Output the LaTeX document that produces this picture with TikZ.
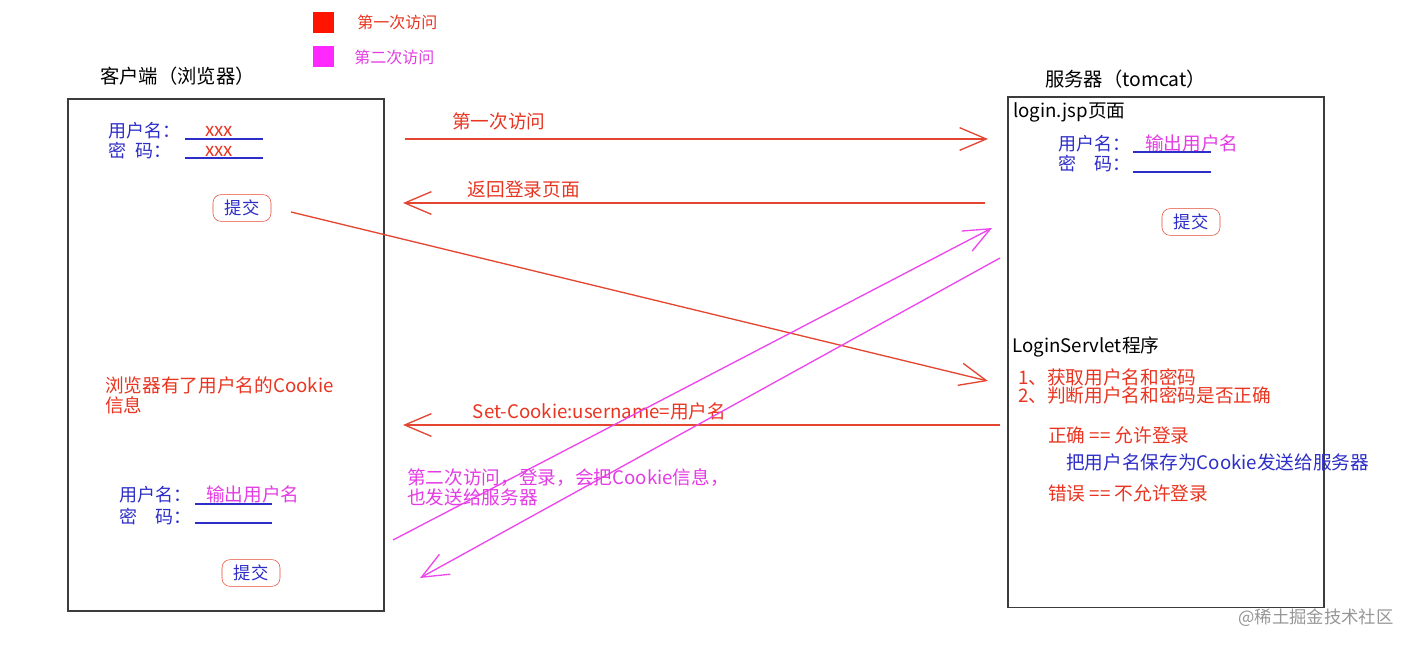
\documentclass[tikz,border=0pt]{standalone}
\usepackage{fontspec}
\setmainfont{Noto Sans CJK SC}
\usepackage{tikz}
\usetikzlibrary{arrows.meta,positioning}

\definecolor{redln}{RGB}{228,70,50}
\definecolor{redtx}{RGB}{232,52,32}
\definecolor{magln}{RGB}{236,70,236}
\definecolor{magtx}{RGB}{228,60,228}
\definecolor{bluetx}{RGB}{45,45,200}
\definecolor{frm}{RGB}{60,60,60}

\begin{document}
\begin{tikzpicture}[x=0.75pt, y=-0.75pt,
		every node/.style={inner sep=0pt, anchor=west, font=\fontsize{14}{15}\selectfont},
		frame/.style={draw=frm, line width=1.3pt, anchor=north west, minimum width=237pt},
		title/.style={font=\fontsize{14.5}{16}\selectfont},
		key/.style={font=\fontsize{12}{14}\selectfont},
		form/.style={text=bluetx, font=\fontsize{13.5}{15}\selectfont},
		btn/.style={draw=redln, anchor=center, rounded corners=6pt, minimum width=43.5pt, minimum height=20pt, text=bluetx, font=\fontsize{13}{15}\selectfont},
		uline/.style={draw=bluetx, line width=0.9pt},
		post/.style={-{Straight Barb[length=20pt, width=17pt]}, line width=1pt, draw=redln},
		back/.style={post, draw=magln},
		red/.style={text=redtx},
		blue/.style={text=bluetx},
		mag/.style={text=magtx}]

	\useasboundingbox (0,0) rectangle (1417,648);

	% legend
	\node [fill={rgb,255:red,255;green,20;blue,0}, anchor=center, minimum size=15.75pt] (K1) at (323.5,22.5) {};
	\node [fill={rgb,255:red,255;green,40;blue,255}, anchor=center, minimum size=15.75pt] (K2) at (323.5,56.5) {};
	\node [key, red] (K1t) at (357,22) {第一次访问};
	\node [key, mag] (K2t) at (354,57) {第二次访问};

	% client
	\node [title] (CT) at (100,76) {客户端（浏览器）};
	\node [frame, minimum height=384pt] (C) at (67,98) {};

	\node [form] (U1) at (108,131) {用户名：};
	\node [red] (U1v) at (205,131) {xxx};
	\node [form] (P1) at (108,151) {密\hspace{0.5em}码：};
	\node [red] (P1v) at (205,151) {xxx};
	\draw [uline] (185,139) -- (263,139);
	\draw [uline] (185,158) -- (263,158);
	\node [btn] (B1) at (242,208) {提交};

	\node [red, align=left] (CK) at (105,395) {浏览器有了用户名的Cookie\\信息};

	\node [form] (U2) at (119,495) {用户名：};
	\node [mag] (U2v) at (206,494) {输出用户名};
	\node [form] (P2) at (119,517) {密\hspace{1em}码：};
	\draw [uline] (195,504) -- (272,504);
	\draw [uline] (195,523) -- (272,523);
	\node [btn] (B2) at (251,573) {提交};

	% server
	\node [title] (ST) at (1045,79) {服务器（tomcat）};
	\node [frame, minimum height=383pt] (S) at (1007,96) {};

	\node (JSP) at (1013,112) {login.jsp页面};
	\node [form] (U3) at (1058,144) {用户名：};
	\node [mag] (U3v) at (1145,143) {输出用户名};
	\node [form] (P3) at (1058,164) {密\hspace{1em}码：};
	\draw [uline] (1133,152) -- (1211,152);
	\draw [uline] (1133,172) -- (1211,172);
	\node [btn] (B3) at (1191,222) {提交};

	\node (LS) at (1012,347) {LoginServlet程序};
	\node [red] (L1) at (1018,377) {1、获取用户名和密码};
	\node [red] (L2) at (1018,395) {2、判断用户名和密码是否正确};
	\node [red] (OK) at (1048,435) {正确 == 允许登录};
	\node [blue] (SV) at (1066,462) {把用户名保存为Cookie发送给服务器};
	\node [red] (NO) at (1048,493) {错误 == 不允许登录};

	% arrow ends
	\coordinate (a1s) at (405,139);  \coordinate (a1e) at (988,139);
	\coordinate (a2s) at (985,203);  \coordinate (a2e) at (403,203);
	\coordinate (a3s) at (291,212);  \coordinate (a3e) at (988,381);
	\coordinate (a4s) at (1000,425); \coordinate (a4e) at (403,425);
	\coordinate (a5s) at (393,540);  \coordinate (a5e) at (992,228);
	\coordinate (a6s) at (1000,258); \coordinate (a6e) at (420,578);

	\path (a1s) edge [post] node [red, pos=0.08, anchor=south west, yshift=6pt] {第一次访问} (a1e);
	\path (a2s) edge [post] node [red, pos=0.89, anchor=south west, yshift=3pt] {返回登录页面} (a2e);
	\path (a3s) edge [post] (a3e);
	\path (a4s) edge [post] node [red, pos=0.884, anchor=south west, yshift=3pt] {Set-Cookie:username=用户名} (a4e);
	\path (a5s) edge [back] (a5e);
	\path (a6s) edge [back] (a6e);

	\node [mag, align=left] (SEC) at (407,487) {第二次访问，登录，会把Cookie信息，\\也发送给服务器};

	\node [text={rgb,255:red,150;green,150;blue,150}, font=\fontsize{13}{15}\selectfont] (WM) at (1238,618) {@稀土掘金技术社区};

\end{tikzpicture}
\end{document}
